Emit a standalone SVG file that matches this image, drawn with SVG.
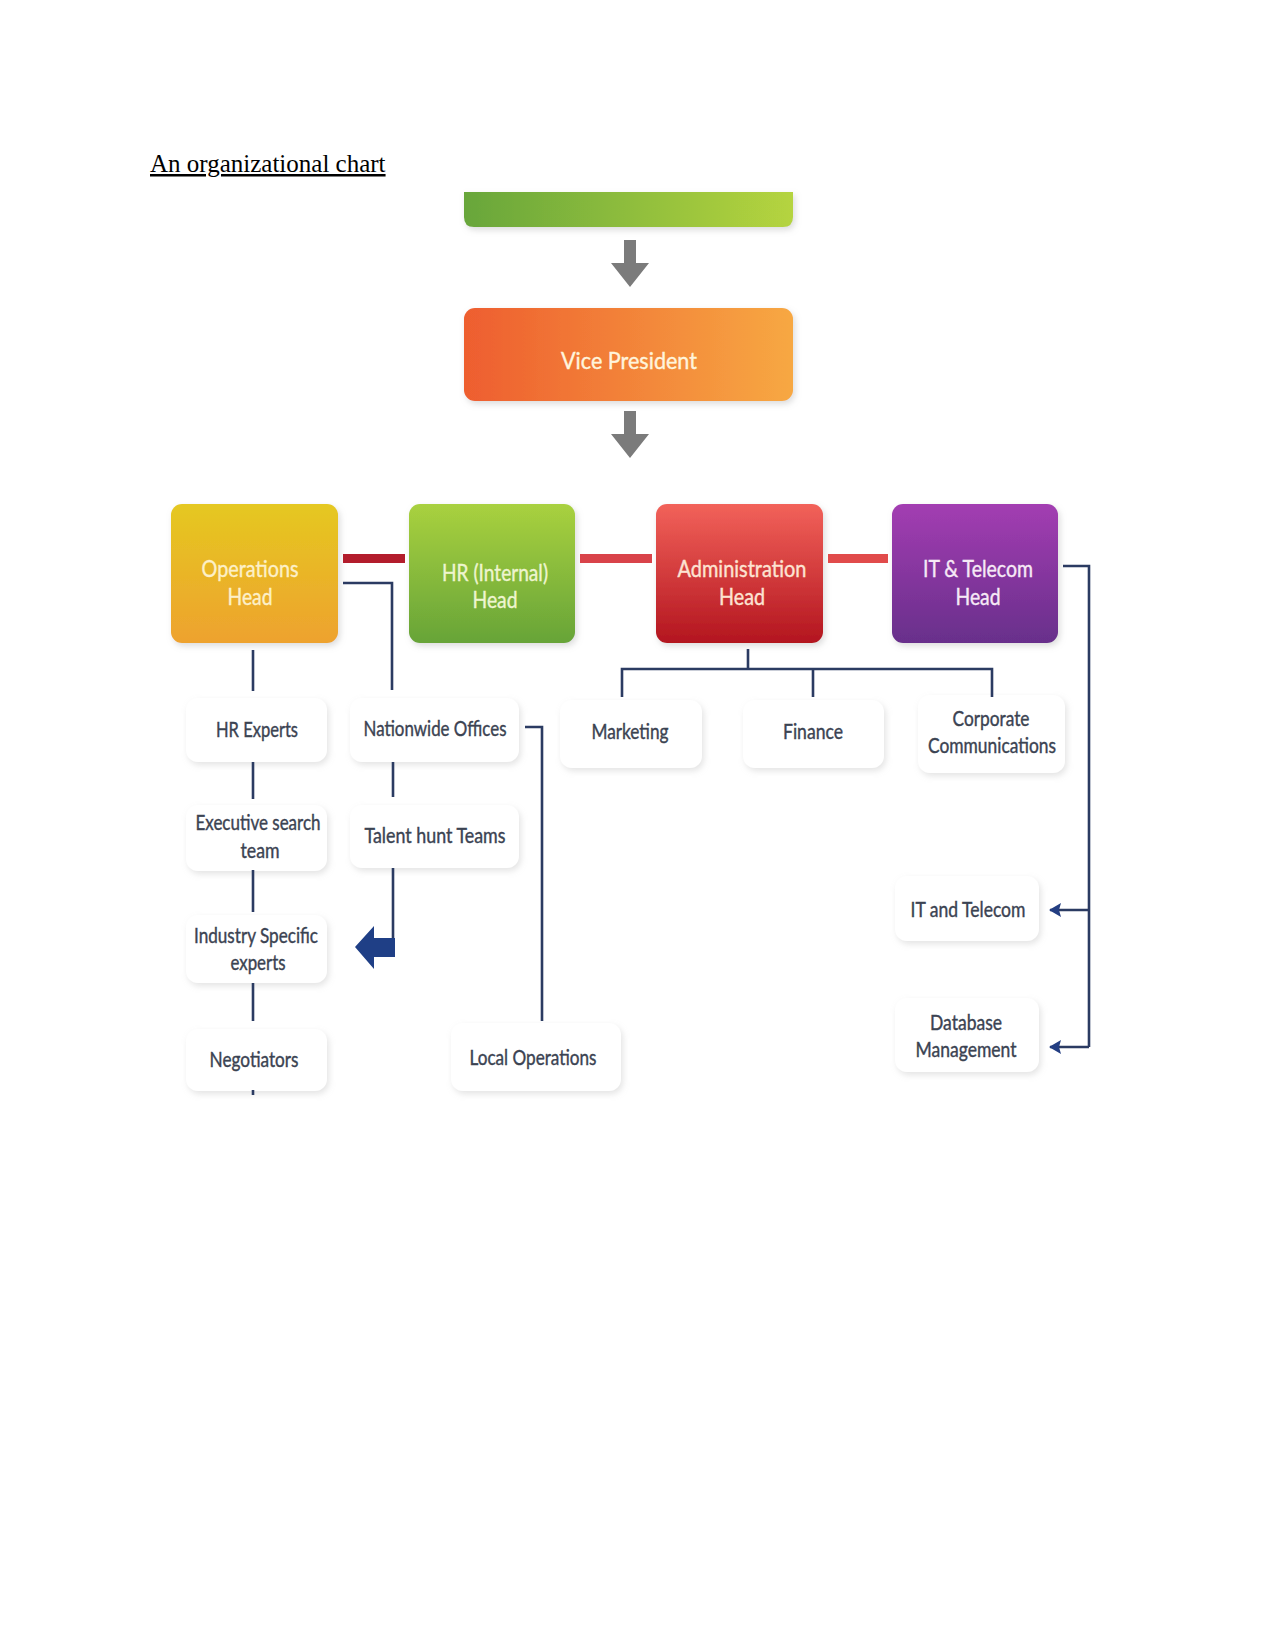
<svg xmlns="http://www.w3.org/2000/svg" width="1275" height="1650" viewBox="0 0 1275 1650">
<defs>
<linearGradient id="gTop" x1="0" y1="0" x2="1" y2="0"><stop offset="0" stop-color="#68a63a"/><stop offset="1" stop-color="#b5d43f"/></linearGradient>
<linearGradient id="gVP" x1="0" y1="0" x2="1" y2="0"><stop offset="0" stop-color="#ee5e2f"/><stop offset="1" stop-color="#f7a843"/></linearGradient>
<linearGradient id="gOps" x1="0" y1="0" x2="0" y2="1"><stop offset="0" stop-color="#e5c820"/><stop offset="1" stop-color="#eea22f"/></linearGradient>
<linearGradient id="gHR" x1="0" y1="0" x2="0" y2="1"><stop offset="0" stop-color="#a9d13f"/><stop offset="1" stop-color="#67a438"/></linearGradient>
<linearGradient id="gAdm" x1="0" y1="0" x2="0" y2="1"><stop offset="0" stop-color="#f2625a"/><stop offset="1" stop-color="#b3151f"/></linearGradient>
<linearGradient id="gIT" x1="0" y1="0" x2="0" y2="1"><stop offset="0" stop-color="#a33db2"/><stop offset="1" stop-color="#682f8b"/></linearGradient>
<filter id="sh" x="-20%" y="-20%" width="140%" height="150%"><feDropShadow dx="2" dy="3" stdDeviation="3" flood-color="#9a9a9a" flood-opacity="0.35"/></filter>
<filter id="shw" x="-20%" y="-20%" width="140%" height="150%"><feDropShadow dx="2" dy="3" stdDeviation="3" flood-color="#b0b0b0" flood-opacity="0.35"/></filter>
<marker id="ah" markerWidth="12" markerHeight="14" refX="11" refY="7" orient="auto" markerUnits="userSpaceOnUse"><path d="M0,0 L12,7 L0,14 L2,7 Z" fill="#233e82"/></marker>
</defs>
<style>
.title{font-family:"Liberation Serif",serif;font-size:25px;fill:#000;text-decoration:underline}
.hd{font-family:Lato,"Liberation Sans",sans-serif;font-size:23px;text-anchor:middle;stroke-width:0.4}
.lb{font-family:Lato,"Liberation Sans",sans-serif;font-size:21px;fill:#3b4352;stroke:#3b4352;stroke-width:0.4;text-anchor:middle}
.wb{fill:#ffffff;filter:url(#shw)}
.nv{stroke:#2b3b62;stroke-width:2.6;fill:none}
.ga{fill:#7b7b7b}
</style>
<rect width="1275" height="1650" fill="#ffffff"/>
<text class="title" x="150" y="172">An organizational chart</text>

<g id="top-bar"><path d="M464,192 H793 V217 Q793,227 783,227 H474 Q464,227 464,217 Z" fill="url(#gTop)" filter="url(#sh)"/></g>
<g id="vice-president"><rect x="464" y="308" width="329" height="93" rx="11" fill="url(#gVP)" filter="url(#sh)"/><text class="hd" x="629" y="369" fill="#fff4dc" stroke="#fff4dc" font-size="24" textLength="136" lengthAdjust="spacingAndGlyphs">Vice President</text></g>

<g id="operations-head"><rect x="171" y="504" width="167" height="139" rx="11" fill="url(#gOps)" filter="url(#sh)"/><text class="hd" x="250" y="577" fill="#fdf0c8" stroke="#fdf0c8" textLength="97" lengthAdjust="spacingAndGlyphs">Operations</text><text class="hd" x="250" y="605" fill="#fdf0c8" stroke="#fdf0c8" textLength="45" lengthAdjust="spacingAndGlyphs">Head</text></g>
<g id="hr-head"><rect x="409" y="504" width="166" height="139" rx="11" fill="url(#gHR)" filter="url(#sh)"/><text class="hd" x="495" y="581" fill="#eef5cf" stroke="#eef5cf" textLength="106" lengthAdjust="spacingAndGlyphs">HR (Internal)</text><text class="hd" x="495" y="608" fill="#eef5cf" stroke="#eef5cf" textLength="45" lengthAdjust="spacingAndGlyphs">Head</text></g>
<g id="admin-head"><rect x="656" y="504" width="167" height="139" rx="11" fill="url(#gAdm)" filter="url(#sh)"/><text class="hd" x="742" y="577" fill="#fde3d2" stroke="#fde3d2" textLength="129" lengthAdjust="spacingAndGlyphs">Administration</text><text class="hd" x="742" y="605" fill="#fde3d2" stroke="#fde3d2" textLength="46" lengthAdjust="spacingAndGlyphs">Head</text></g>
<g id="it-head"><rect x="892" y="504" width="166" height="139" rx="11" fill="url(#gIT)" filter="url(#sh)"/><text class="hd" x="978" y="577" fill="#f6e9f6" stroke="#f6e9f6" textLength="110" lengthAdjust="spacingAndGlyphs">IT &amp; Telecom</text><text class="hd" x="978" y="605" fill="#f6e9f6" stroke="#f6e9f6" textLength="45" lengthAdjust="spacingAndGlyphs">Head</text></g>

<g id="hr-experts"><rect class="wb" x="186" y="698" width="141" height="64" rx="12"/><text class="lb" x="257" y="737" textLength="82" lengthAdjust="spacingAndGlyphs">HR Experts</text></g>
<g id="nationwide-offices"><rect class="wb" x="350" y="698" width="169" height="64" rx="12"/><text class="lb" x="435" y="736" textLength="143" lengthAdjust="spacingAndGlyphs">Nationwide Offices</text></g>
<g id="executive-search"><rect class="wb" x="186" y="805" width="141" height="66" rx="12"/><text class="lb" x="258" y="830" textLength="125" lengthAdjust="spacingAndGlyphs">Executive search</text><text class="lb" x="260" y="858" textLength="39" lengthAdjust="spacingAndGlyphs">team</text></g>
<g id="talent-hunt"><rect class="wb" x="350" y="805" width="169" height="63" rx="12"/><text class="lb" x="435" y="843" textLength="141" lengthAdjust="spacingAndGlyphs">Talent hunt Teams</text></g>
<g id="industry-specific"><rect class="wb" x="186" y="915" width="141" height="68" rx="12"/><text class="lb" x="256" y="943" textLength="124" lengthAdjust="spacingAndGlyphs">Industry Specific</text><text class="lb" x="258" y="970" textLength="55" lengthAdjust="spacingAndGlyphs">experts</text></g>
<g id="negotiators"><rect class="wb" x="186" y="1029" width="141" height="62" rx="12"/><text class="lb" x="254" y="1067" textLength="89" lengthAdjust="spacingAndGlyphs">Negotiators</text></g>
<g id="local-operations"><rect class="wb" x="451" y="1023" width="170" height="68" rx="12"/><text class="lb" x="533" y="1065" textLength="127" lengthAdjust="spacingAndGlyphs">Local Operations</text></g>
<g id="marketing"><rect class="wb" x="560" y="700" width="142" height="68" rx="12"/><text class="lb" x="630" y="739" textLength="77" lengthAdjust="spacingAndGlyphs">Marketing</text></g>
<g id="finance"><rect class="wb" x="743" y="700" width="141" height="68" rx="12"/><text class="lb" x="813" y="739" textLength="60" lengthAdjust="spacingAndGlyphs">Finance</text></g>
<g id="corporate-communications"><rect class="wb" x="918" y="695" width="147" height="78" rx="12"/><text class="lb" x="991" y="726" textLength="77" lengthAdjust="spacingAndGlyphs">Corporate</text><text class="lb" x="992" y="753" textLength="128" lengthAdjust="spacingAndGlyphs">Communications</text></g>
<g id="it-and-telecom"><rect class="wb" x="895" y="876" width="144" height="65" rx="12"/><text class="lb" x="968" y="917" textLength="115" lengthAdjust="spacingAndGlyphs">IT and Telecom</text></g>
<g id="database-management"><rect class="wb" x="895" y="998" width="144" height="74" rx="12"/><text class="lb" x="966" y="1030" textLength="72" lengthAdjust="spacingAndGlyphs">Database</text><text class="lb" x="966" y="1057" textLength="101" lengthAdjust="spacingAndGlyphs">Management</text></g>

<g id="connectors">
<path class="ga" d="M624,240 H636 V263 H649 L630,287 L611,263 H624 Z"/>
<path class="ga" d="M624,411 H636 V434 H649 L630,458 L611,434 H624 Z"/>
<rect x="343" y="554" width="62" height="9" fill="#b31d2c"/>
<rect x="580" y="554" width="72" height="9" fill="#d9434a"/>
<rect x="828" y="554" width="60" height="9" fill="#e14b4b"/>
<path class="nv" d="M343,583 H392 V690"/>
<path class="nv" d="M253,650 V691"/>
<path class="nv" d="M253,762 V799"/>
<path class="nv" d="M253,870 V912"/>
<path class="nv" d="M253,983 V1021"/>
<path class="nv" d="M253,1090 V1095"/>
<path class="nv" d="M393,762 V797"/>
<path class="nv" d="M393,868 V940"/>
<path d="M355,947 L374,926 L374,938 L395,938 L395,957 L374,957 L374,969 Z" fill="#1f3f86"/>
<path class="nv" d="M525,727 H542 V1021"/>
<path class="nv" d="M748,649 V669 M622,697 V669 H992 V697 M813,669 V697"/>
<path class="nv" d="M1063,566 H1089 V1047"/>
<path class="nv" d="M1089,910 H1050" marker-end="url(#ah)"/>
<path class="nv" d="M1089,1047 H1050" marker-end="url(#ah)"/>
</g>
</svg>
